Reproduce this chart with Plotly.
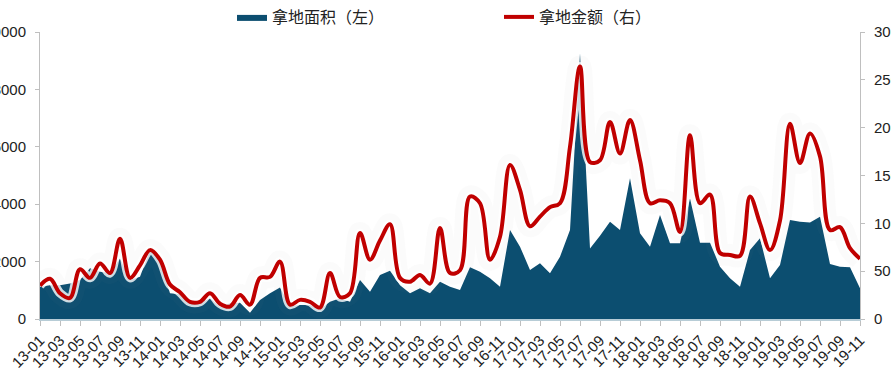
import plotly.graph_objects as go

months = [
    "13-01", "13-02", "13-03", "13-04", "13-05", "13-06", "13-07", "13-08", "13-09", "13-10", "13-11", "13-12",
    "14-01", "14-02", "14-03", "14-04", "14-05", "14-06", "14-07", "14-08", "14-09", "14-10", "14-11", "14-12",
    "15-01", "15-02", "15-03", "15-04", "15-05", "15-06", "15-07", "15-08", "15-09", "15-10", "15-11", "15-12",
    "16-01", "16-02", "16-03", "16-04", "16-05", "16-06", "16-07", "16-08", "16-09", "16-10", "16-11", "16-12",
    "17-01", "17-02", "17-03", "17-04", "17-05", "17-06", "17-07", "17-08", "17-09", "17-10", "17-11", "17-12",
    "18-01", "18-02", "18-03", "18-04", "18-05", "18-06", "18-07", "18-08", "18-09", "18-10", "18-11", "18-12",
    "19-01", "19-02", "19-03", "19-04", "19-05", "19-06", "19-07", "19-08", "19-09", "19-10", "19-11",
]

# 拿地面积（左）
land_area = [
    1125, 1180, 1180, 1240, 1360, 1770, 1650, 1600, 2110, 1360, 1475, 2400,
    2050, 900, 860, 545, 545, 720, 430, 545, 570, 220, 660, 900,
    1100, 450, 490, 490, 340, 600, 720, 600, 1360, 950, 1530, 1680,
    1180, 900, 1070, 900, 1300, 1125, 1010, 1800, 1650, 1420, 1125, 3100,
    2520, 1710, 1940, 1590, 2170, 3100, 9250, 2460, 2900, 3390, 3100, 4900,
    2990, 2520, 3620, 2640, 2640, 4200, 2660, 2660, 1820, 1420, 1125, 2400,
    2810, 1420, 1880, 3450, 3390, 3360, 3560, 1920, 1820, 1800, 1070,
]

# 拿地金额（右）
land_amount = [
    35, 42, 27, 22, 52, 43, 58, 48, 84, 43, 56, 72,
    62, 36, 28, 18, 18, 27, 16, 13, 25, 15, 43, 44,
    60, 15, 20, 18, 12, 48, 23, 27, 90, 62, 82, 99,
    43, 39, 46, 37, 95, 48, 51, 128, 121, 62, 86, 161,
    135, 97, 107, 117, 121, 180, 264, 164, 166, 206, 173, 208,
    166, 121, 124, 121, 91, 192, 121, 130, 69, 67, 66, 128,
    100, 72, 103, 204, 163, 194, 170, 93, 96, 74, 63,
]

tick_labels = months[::2]
left_ticks = [0, 2000, 4000, 6000, 8000, 10000]
left_tick_text = ["0", "2000", "4000", "6000", "8000", "10000"]
right_ticks = [0, 50, 100, 150, 200, 250, 300]
right_tick_text = ["0", "50", "100", "150", "200", "250", "300"]

AREA_COLOR = "#0C4E70"
LINE_COLOR = "#C00000"
FONT = "Liberation Sans, Arial, Noto Sans CJK SC, sans-serif"

fig = go.Figure()

fig.add_trace(go.Scatter(
    x=months, y=land_area, name="拿地面积（左）", mode="lines",
    line=dict(color=AREA_COLOR, width=0), fill="tozeroy", fillcolor=AREA_COLOR,
    yaxis="y",
))

# soft halo under the red line
fig.add_trace(go.Scatter(
    x=months, y=land_amount, mode="lines", showlegend=False, hoverinfo="skip",
    line=dict(color="rgba(140,140,140,0.035)", width=22, shape="spline", smoothing=1.0),
    yaxis="y2",
))
fig.add_trace(go.Scatter(
    x=months, y=land_amount, mode="lines", showlegend=False, hoverinfo="skip",
    line=dict(color="rgba(255,255,255,0.8)", width=9, shape="spline", smoothing=1.0),
    yaxis="y2",
))
fig.add_trace(go.Scatter(
    x=months, y=land_amount, name="拿地金额（右）", mode="lines",
    line=dict(color=LINE_COLOR, width=4, shape="spline", smoothing=1.0),
    yaxis="y2",
))

fig.update_layout(
    width=891, height=377,
    margin=dict(l=40, r=31, t=32, b=58, autoexpand=False),
    paper_bgcolor="white", plot_bgcolor="white",
    font=dict(family=FONT, size=15, color="#222222"),
    showlegend=True,
    legend=dict(
        orientation="h", xref="container", yref="container",
        x=232 / 891, xanchor="left", y=1.0, yanchor="top",
        entrywidth=222, font=dict(size=16, color="#222222"),
        bgcolor="rgba(0,0,0,0)",
    ),
    xaxis=dict(
        type="category", range=[0, len(months) - 1], automargin=False,
        tickmode="array", tickvals=tick_labels, ticktext=tick_labels,
        tickangle=-45, tickfont=dict(size=15),
        showline=True, linecolor="#B7CCD6", linewidth=1.5,
        ticks="outside", ticklen=5, tickcolor="#BFBFBF",
        showgrid=False, zeroline=False,
    ),
    yaxis=dict(
        range=[0, 10000], tickmode="array", tickvals=left_ticks, ticktext=left_tick_text,
        automargin=False,
        showline=True, linecolor="#BFBFBF", linewidth=1,
        ticks="outside", ticklen=4, tickcolor="#BFBFBF",
        showgrid=False, zeroline=False, ticklabelstandoff=6,
    ),
    yaxis2=dict(
        range=[0, 300], tickmode="array", tickvals=right_ticks, ticktext=right_tick_text,
        automargin=False,
        overlaying="y", side="right",
        showline=True, linecolor="#BFBFBF", linewidth=1,
        ticks="outside", ticklen=4, tickcolor="#BFBFBF",
        showgrid=False, zeroline=False, ticklabelstandoff=6,
    ),
)

fig.write_html(
    "out.html",
    config={"displayModeBar": False},
    post_script="document.body.style.margin='0';document.body.style.overflow='hidden';",
)
